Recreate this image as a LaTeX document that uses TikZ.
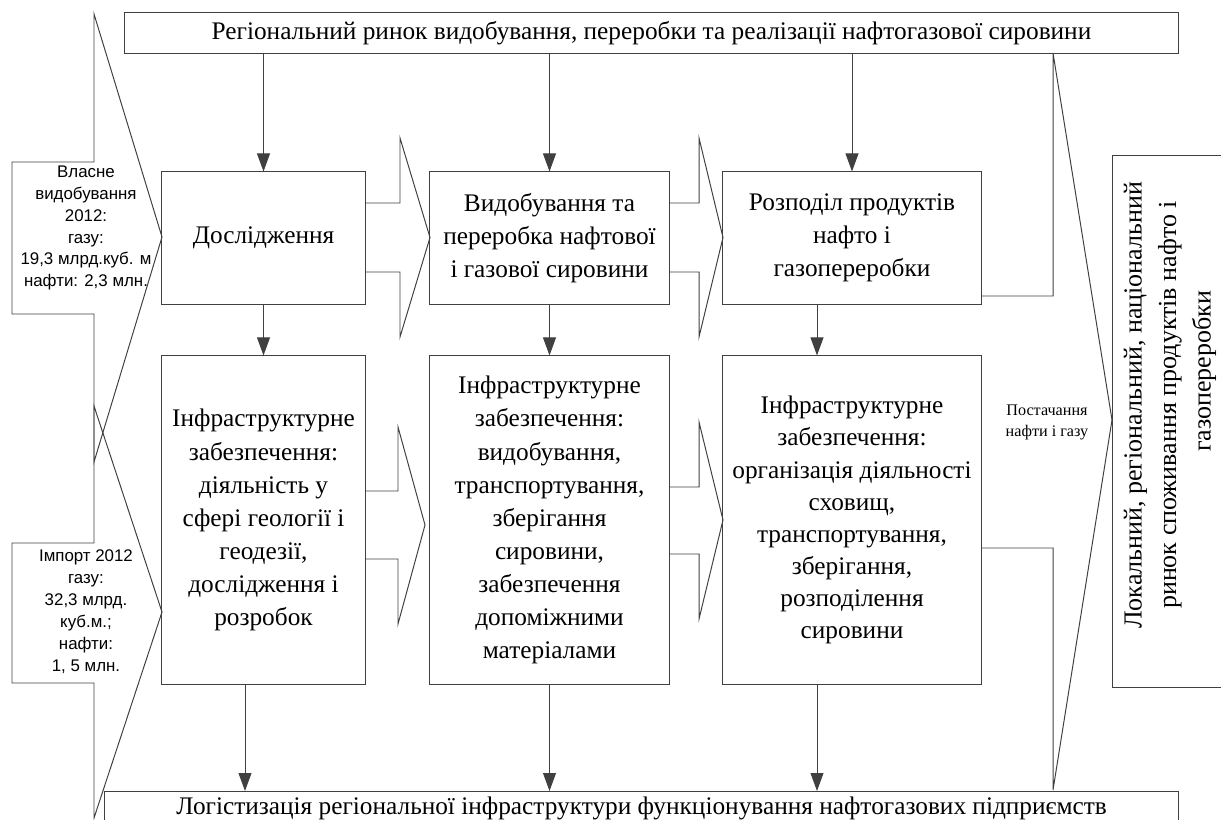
\documentclass[tikz,border=0pt]{standalone}
\usepackage{fontspec}
\setmainfont{Liberation Serif}
\newfontfamily\arialfont{Liberation Sans}
\usepackage{tikz}
\usetikzlibrary{arrows.meta}
\usetikzlibrary{positioning,calc}
\tikzset{
    block/.style={
        draw=black!75,
        line width=0.7pt,
        align=center,
        inner sep=2pt,
        font=\fontsize{18}{23.5}\selectfont
    },
    flow/.style={
        draw=black!75,
        line width=0.7pt,
        -{Triangle[length=12.8pt, width=9.2pt]}
    },
    bigarrow/.style={
        draw=black!75,
        line width=0.7pt,
        line join=miter
    }
}

\begin{document}
\begin{tikzpicture}[x=0.025cm, y=-0.025cm]
  \useasboundingbox (0,0) rectangle (1221,820);
  \clip (0,0) rectangle (1221,820);

  % Define styles for side texts
  \tikzset{
    sidetext/.style={
      align=center,
      inner sep=0pt,
      font=\arialfont\fontsize{12}{15.6}\selectfont
    },
    smalltext/.style={
      align=center,
      inner sep=0pt,
      font=\fontsize{11.5}{15}\selectfont
    }
  }

  % Top and bottom markets
  \node[block, minimum width=26.325cm, minimum height=1cm] (market) at (651.5,33)
    {Регіональний ринок видобування, переробки та реалізації нафтогазової сировини};
  \node[block, anchor=north west, minimum width=26.85cm, minimum height=0.85cm] (logist) at (104,791)
    {Логістизація регіональної інфраструктури функціонування нафтогазових підприємств};

  % Upper row
  \node[block, minimum width=5.075cm, minimum height=3.3cm] (explore) at (263.5,238) {Дослідження};
  \node[block, minimum width=5.975cm, minimum height=3.3cm] (extract) at (549.5,238)
    {Видобування та\\переробка нафтової\\і газової сировини};
  \node[block, minimum width=6.45cm, minimum height=3.3cm] (distrib) at (852,238)
    {Розподіл продуктів\\нафто і\\газопереробки};

  % Lower row
  \node[block, minimum width=5.075cm, minimum height=8.2cm] (infra1) at (263.5,520)
    {Інфраструктурне\\забезпечення:\\діяльність у\\сфері геології і\\геодезії,\\дослідження і\\розробок};
  \node[block, minimum width=5.975cm, minimum height=8.2cm] (infra2) at (549.5,520)
    {Інфраструктурне\\забезпечення:\\видобування,\\транспортування,\\зберігання\\сировини,\\забезпечення\\допоміжними\\матеріалами};
  \node[block, minimum width=6.45cm, minimum height=8.2cm, font=\fontsize{18}{22.8}\selectfont] (infra3) at (852,520)
    {Інфраструктурне\\забезпечення:\\організація діяльності\\сховищ,\\транспортування,\\зберігання,\\розподілення\\сировини};

  % Consumer market
  \node[block, rotate=90, minimum width=13.275cm, minimum height=2.825cm] (consumer) at (1168.5,421.5) {};
  \node[rotate=90, align=center, inner sep=0pt, font=\fontsize{18.5}{24.6}\selectfont] (consumertext) at (1170,405)
    {Локальний, регіональний, національний\\ринок споживання продуктів нафто і\\\hspace*{48pt}газопереробки};

  % Side texts
  \node[sidetext] (own) at (86,228)
    {Власне\\видобування\\2012:\\газу:\\19,3 млрд.куб. м\\нафти: 2,3 млн.};
  \node[sidetext] (import) at (86,612)
    {Імпорт 2012\\газу:\\32,3 млрд.\\куб.м.;\\нафти:\\1, 5 млн.};
  \node[smalltext] (supply) at (1047,422) {Постачання\\нафти і газу};

  % Arrows from the regional market
  \foreach \n in {explore, extract, distrib} {
    \draw[flow] (market.south -| \n.north) -- (\n.north);
  }

  % Arrows between rows
  \draw[flow] (explore.south) -- (infra1.north);
  \draw[flow] (extract.south) -- (infra2.north);
  \draw[flow] ([xshift=-0.875cm]distrib.south) -- ([xshift=-0.875cm]infra3.north);

  % Arrows to logistics
  \draw[flow] ([xshift=-0.4625cm]infra1.south) -- ([xshift=-0.4625cm]infra1.south |- logist.north);
  \draw[flow] (infra2.south) -- (infra2.south |- logist.north);
  \draw[flow] ([xshift=-0.875cm]infra3.south) -- ([xshift=-0.875cm]infra3.south |- logist.north);

  % Block arrows on the left
  \draw[bigarrow] (12,162) -- (94,162) -- (94,14) -- (162,237) -- (94,462) -- (94,314) -- (12,314) -- cycle;
  \draw[bigarrow] (12,543) -- (94,543) -- (94,406) -- (162,612) -- (94,818) -- (94,683) -- (12,683) -- cycle;

  % Block arrows between columns
  \draw[bigarrow] (365,203) -- (400,203) -- (400,138) -- (430,237.5) -- (400,337) -- (400,272) -- (365,272);
  \draw[bigarrow] (669,203) -- (699,203) -- (699,138) -- (723,237.5) -- (699,337) -- (699,272) -- (669,272);
  \draw[bigarrow] (365,491) -- (398,491) -- (398,427) -- (425,525) -- (398,624) -- (398,559) -- (365,559);
  \draw[bigarrow] (669,487) -- (699,487) -- (699,422) -- (723,520) -- (699,619) -- (699,554) -- (669,554);

  % Supply arrow to the consumer market
  \draw[bigarrow] (981,296) -- (1053,296) -- (1053,53) -- (1112,420) -- (1053,790) -- (1053,548) -- (981,548);
\end{tikzpicture}
\end{document}
